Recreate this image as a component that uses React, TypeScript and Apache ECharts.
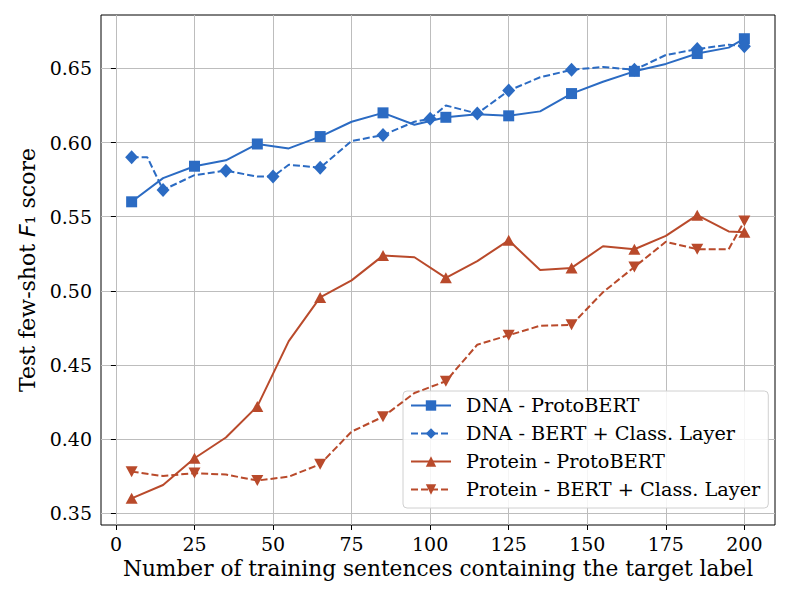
import React, { useEffect, useRef } from "react";
import * as echarts from "echarts";

// ---- data ----
const xTicks = [0, 25, 50, 75, 100, 125, 150, 175, 200];
const yTicks = [0.35, 0.4, 0.45, 0.5, 0.55, 0.6, 0.65];

const seriesNames = [
  "DNA - ProtoBERT",
  "DNA - BERT + Class. Layer",
  "Protein - ProtoBERT",
  "Protein - BERT + Class. Layer",
];

const gridX = [5, 15, 25, 35, 45, 55, 65, 75, 85, 95, 105, 115, 125, 135, 145, 155, 165, 175, 185, 195, 200];
const gridMarks = [5, 25, 45, 65, 85, 105, 125, 145, 165, 185, 200];

const dnaProtoY = [0.560, 0.576, 0.584, 0.588, 0.599, 0.596, 0.604, 0.614, 0.620, 0.612, 0.617, 0.619, 0.618, 0.621, 0.633, 0.641, 0.648, 0.653, 0.660, 0.664, 0.670];

const dnaBertX = [5, 10, 15, 25, 35, 45, 50, 55, 65, 75, 85, 95, 100, 105, 115, 125, 135, 145, 155, 165, 175, 185, 195, 200];
const dnaBertY = [0.590, 0.590, 0.568, 0.578, 0.581, 0.577, 0.577, 0.585, 0.583, 0.601, 0.605, 0.614, 0.616, 0.625, 0.6195, 0.635, 0.644, 0.649, 0.651, 0.649, 0.659, 0.663, 0.666, 0.665];
const dnaBertMarks = [5, 15, 35, 50, 65, 85, 100, 115, 125, 145, 165, 185, 200];

const proteinProtoY = [0.360, 0.369, 0.387, 0.401, 0.422, 0.466, 0.4955, 0.507, 0.5237, 0.5226, 0.5087, 0.520, 0.534, 0.514, 0.5154, 0.530, 0.528, 0.537, 0.551, 0.540, 0.5395];
const proteinBertY = [0.378, 0.375, 0.377, 0.376, 0.372, 0.3746, 0.383, 0.405, 0.415, 0.431, 0.439, 0.4636, 0.470, 0.4764, 0.477, 0.499, 0.516, 0.533, 0.528, 0.528, 0.547];

const BLUE = "#2b6bc3";
const RED = "#b94a2b";
const FONT = "DejaVu Serif";

function buildData(xs: number[], ys: number[], marks: number[]) {
  return xs.map((x, i) =>
    marks.includes(x) ? { value: [x, ys[i]] } : { value: [x, ys[i]], symbol: "none" }
  );
}

export default function App() {
  const ref = useRef<HTMLDivElement>(null);

  useEffect(() => {
    if (!ref.current) return;
    const chart = echarts.init(ref.current, null, { renderer: "svg" });

    const common = {
      type: "line",
      showSymbol: true,
      showAllSymbol: true,
      silent: true,
    };

    chart.setOption({
      animation: false,
      backgroundColor: "#fff",
      grid: {
        left: 101,
        top: 15,
        right: 14,
        bottom: 67,
        show: true,
        borderColor: "#000",
        borderWidth: 1,
        backgroundColor: "transparent",
      },
      xAxis: {
        type: "value",
        min: -4.75,
        max: 209.75,
        axisLine: { show: false },
        axisTick: {
          show: true,
          customValues: xTicks,
          length: 5,
          lineStyle: { color: "#000", width: 1 },
        },
        axisLabel: {
          customValues: xTicks,
          margin: 9,
          color: "#000",
          fontFamily: FONT,
          fontSize: 19,
        },
        splitLine: { show: true, lineStyle: { color: "#bdbdbd", width: 1 } },
        name: "Number of training sentences containing the target label",
        nameLocation: "middle",
        nameGap: 27,
        nameTextStyle: { color: "#000", fontFamily: FONT, fontSize: 21.7 },
      },
      yAxis: {
        type: "value",
        min: 0.342,
        max: 0.686,
        axisLine: { show: false },
        axisTick: {
          show: true,
          customValues: yTicks,
          length: 5,
          lineStyle: { color: "#000", width: 1 },
        },
        axisLabel: {
          customValues: yTicks,
          margin: 9,
          color: "#000",
          fontFamily: FONT,
          fontSize: 19,
          formatter: (v: number) => v.toFixed(2),
        },
        splitLine: { show: true, lineStyle: { color: "#bdbdbd", width: 1 } },
        name: "Test few-shot {i|F}₁ score",
        nameLocation: "middle",
        nameGap: 62,
        nameTextStyle: {
          color: "#000",
          fontFamily: FONT,
          fontSize: 22,
          rich: {
            i: { fontFamily: "DejaVu Sans", fontStyle: "italic", fontSize: 22, color: "#000" },
          },
        },
      },
      legend: {
        orient: "vertical",
        left: 403,
        top: 391,
        data: seriesNames,
        itemWidth: 40,
        itemHeight: 13,
        itemGap: 9,
        padding: [5, 8, 9, 7],
        backgroundColor: "rgba(255,255,255,0.85)",
        borderColor: "#d0d0d0",
        borderWidth: 1,
        borderRadius: 4,
        textStyle: {
          color: "#000",
          fontFamily: FONT,
          fontSize: 19.3,
          padding: [0, 0, 0, 10],
        },
      },
      series: [
        {
          ...common,
          name: seriesNames[0],
          data: buildData(gridX, dnaProtoY, gridMarks),
          symbol: "rect",
          symbolSize: 11,
          itemStyle: { color: BLUE },
          lineStyle: { color: BLUE, width: 2 },
          z: 2,
        },
        {
          ...common,
          name: seriesNames[1],
          data: buildData(dnaBertX, dnaBertY, dnaBertMarks),
          symbol: "diamond",
          symbolSize: [13, 14],
          itemStyle: { color: BLUE },
          lineStyle: { color: BLUE, width: 2, type: [7, 3] },
          z: 3,
        },
        {
          ...common,
          name: seriesNames[2],
          data: buildData(gridX, proteinProtoY, gridMarks),
          symbol: "triangle",
          symbolSize: [12, 11],
          itemStyle: { color: RED },
          lineStyle: { color: RED, width: 2 },
          z: 4,
        },
        {
          ...common,
          name: seriesNames[3],
          data: buildData(gridX, proteinBertY, gridMarks),
          symbol: "triangle",
          symbolRotate: 180,
          symbolSize: [12, 11],
          itemStyle: { color: RED },
          lineStyle: { color: RED, width: 2, type: [7, 3] },
          z: 5,
        },
      ],
    });

    return () => chart.dispose();
  }, []);

  return (
    <div
      ref={ref}
      style={{ position: "absolute", left: 0, top: 0, width: 789, height: 592 }}
    />
  );
}
